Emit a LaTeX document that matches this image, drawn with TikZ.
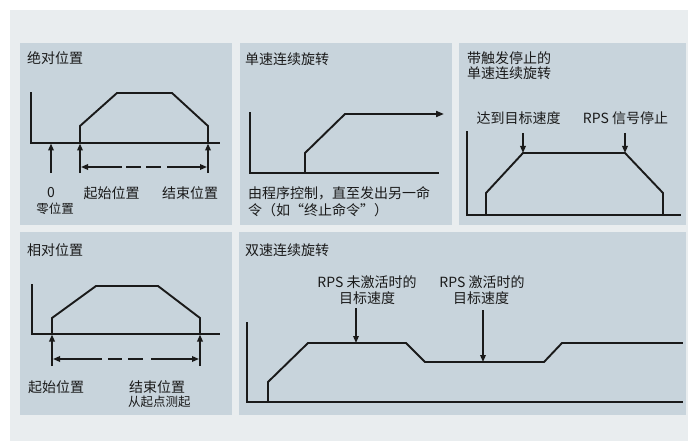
\documentclass[tikz,border=0pt]{standalone}
\usepackage{fontspec}
\newfontfamily\cjk{Noto Sans CJK SC}
\usetikzlibrary{arrows.meta}
\definecolor{outerc}{HTML}{E9EDEF}
\definecolor{panelc}{HTML}{C8D4DC}
\definecolor{txtc}{HTML}{1A1A1A}
\begin{document}
\begin{tikzpicture}[x=1pt,y=-1pt,
  panel/.style={fill=panelc,draw=none},
  curve/.style={line width=1.9pt,line join=miter,line cap=rect,draw=txtc},
  arr/.style={line width=1.6pt,draw=txtc,-{Triangle[length=7pt,width=5.5pt]}},
  dsh/.style={line width=1.6pt,draw=txtc},
  lbl/.style={inner sep=0pt,text=txtc,font=\cjk\fontsize{14}{16}\selectfont},
  sml/.style={inner sep=0pt,text=txtc,font=\cjk\fontsize{12.5}{14}\selectfont}]
\useasboundingbox (0,0) rectangle (688,441);
\fill[white] (0,0) rectangle (688,441);
\fill[outerc] (9.5,10) rectangle (688,441);
\fill[panel] (20,43) rectangle (232,225);
\fill[panel] (240,43) rectangle (452,225);
\fill[panel] (459,43) rectangle (686,225);
\fill[panel] (20,232) rectangle (232,415);
\fill[panel] (239,232) rectangle (686,415);

% ---------- Panel 1 ----------
\node[lbl,anchor=west] (t1) at (27,58) {绝对位置};
\coordinate (a1t) at (31,93);
\coordinate (a1o) at (31,143);
\coordinate (a1e) at (219,143);
\draw[curve] (a1t) -- (a1o) -- (a1e);
\coordinate (p1a) at (80,143);
\coordinate (p1b) at (80,126);
\coordinate (p1c) at (117,93);
\coordinate (p1d) at (172,93);
\coordinate (p1e) at (208,126);
\coordinate (p1f) at (208,143);
\draw[curve] (p1a) -- (p1b) -- (p1c) -- (p1d) -- (p1e) -- (p1f);
\coordinate (u1a) at (51,173); \coordinate (u1at) at (51,143.5);
\coordinate (u1b) at (80,173); \coordinate (u1bt) at (80,143.5);
\coordinate (u1c) at (208,173); \coordinate (u1ct) at (208,143.5);
\draw[arr] (u1a) -- (u1at);
\draw[arr] (u1b) -- (u1bt);
\draw[arr] (u1c) -- (u1ct);
\coordinate (d1l) at (81,167); \coordinate (d1a) at (122,167);
\coordinate (d1b) at (126,167); \coordinate (d1c) at (141,167);
\coordinate (d1d) at (146,167); \coordinate (d1e) at (161,167);
\coordinate (d1f) at (167,167); \coordinate (d1r) at (207,167);
\draw[arr] (d1a) -- (d1l);
\draw[dsh] (d1b) -- (d1c);
\draw[dsh] (d1d) -- (d1e);
\draw[arr] (d1f) -- (d1r);
\node[lbl] (z1) at (51,193) {0};
\node[sml] (z1b) at (55,209) {零位置};
\node[lbl] (s1) at (111.5,193) {起始位置};
\node[lbl] (e1) at (190,193) {结束位置};

% ---------- Panel 2 ----------
\node[lbl,anchor=west] (t2) at (245,59) {单速连续旋转};
\coordinate (a2t) at (250,113);
\coordinate (a2o) at (250,173);
\coordinate (a2e) at (438,173);
\draw[curve] (a2t) -- (a2o) -- (a2e);
\coordinate (p2a) at (305,173);
\coordinate (p2b) at (305,153);
\coordinate (p2c) at (345,114);
\coordinate (p2d) at (444,114);
\draw[curve,-{Triangle[length=8pt,width=6pt]}] (p2a) -- (p2b) -- (p2c) -- (p2d);
\node[lbl,anchor=west] (x2a) at (248,193) {由程序控制，直至发出另一命};
\node[lbl,anchor=west] (x2b) at (248,210) {令（如“终止命令”）};

% ---------- Panel 3 ----------
\node[lbl,anchor=west] (t3a) at (467,58) {带触发停止的};
\node[lbl,anchor=west] (t3b) at (467,73.5) {单速连续旋转};
\coordinate (a3t) at (467,132);
\coordinate (a3o) at (467,215);
\coordinate (a3e) at (680,215);
\draw[curve] (a3t) -- (a3o) -- (a3e);
\coordinate (p3a) at (486,215);
\coordinate (p3b) at (486,193);
\coordinate (p3c) at (523,153);
\coordinate (p3d) at (625,153);
\coordinate (p3e) at (663,193);
\coordinate (p3f) at (663,215);
\draw[curve] (p3a) -- (p3b) -- (p3c) -- (p3d) -- (p3e) -- (p3f);
\node[lbl] (l3a) at (518.5,118) {达到目标速度};
\node[lbl] (l3b) at (625.5,118) {RPS 信号停止};
\coordinate (q3a) at (523,133);
\coordinate (q3b) at (625,133);
\draw[arr] (q3a) -- (p3c);
\draw[arr] (q3b) -- (p3d);

% ---------- Panel 4 ----------
\node[lbl,anchor=west] (t4) at (27,250) {相对位置};
\coordinate (a4t) at (32,285);
\coordinate (a4o) at (32,334);
\coordinate (a4e) at (219,334);
\draw[curve] (a4t) -- (a4o) -- (a4e);
\coordinate (p4a) at (52,334);
\coordinate (p4b) at (52,318);
\coordinate (p4c) at (96,286);
\coordinate (p4d) at (158,286);
\coordinate (p4e) at (200,318);
\coordinate (p4f) at (200,334);
\draw[curve] (p4a) -- (p4b) -- (p4c) -- (p4d) -- (p4e) -- (p4f);
\coordinate (u4a) at (52,366); \coordinate (u4at) at (52,334.5);
\coordinate (u4b) at (200,366); \coordinate (u4bt) at (200,334.5);
\draw[arr] (u4a) -- (u4at);
\draw[arr] (u4b) -- (u4bt);
\coordinate (d4l) at (53,359); \coordinate (d4a) at (102,359);
\coordinate (d4b) at (108,359); \coordinate (d4c) at (122,359);
\coordinate (d4d) at (128,359); \coordinate (d4e) at (143,359);
\coordinate (d4f) at (151,359); \coordinate (d4r) at (199,359);
\draw[arr] (d4a) -- (d4l);
\draw[dsh] (d4b) -- (d4c);
\draw[dsh] (d4d) -- (d4e);
\draw[arr] (d4f) -- (d4r);
\node[lbl] (s4) at (56,387) {起始位置};
\node[lbl] (e4) at (157,387) {结束位置};
\node[sml,anchor=west] (m4) at (128,402) {从起点测起};

% ---------- Panel 5 ----------
\node[lbl,anchor=west] (t5) at (245,250) {双速连续旋转};
\coordinate (a5t) at (247,323);
\coordinate (a5o) at (247,402);
\coordinate (a5e) at (682,402);
\draw[curve] (a5t) -- (a5o) -- (a5e);
\coordinate (p5a) at (268,402);
\coordinate (p5b) at (268,382);
\coordinate (p5c) at (308,343);
\coordinate (p5d) at (406,343);
\coordinate (p5e) at (425,362);
\coordinate (p5f) at (544,362);
\coordinate (p5g) at (562,343);
\coordinate (p5h) at (682,343);
\draw[curve] (p5a) -- (p5b) -- (p5c) -- (p5d) -- (p5e) -- (p5f) -- (p5g) -- (p5h);
\node[lbl] (l5a) at (367,282) {RPS 未激活时的};
\node[lbl] (l5b) at (367,298) {目标速度};
\node[lbl] (l5c) at (482,282) {RPS 激活时的};
\node[lbl] (l5d) at (481,298) {目标速度};
\coordinate (q5a) at (356,308); \coordinate (q5at) at (356,343);
\coordinate (q5b) at (483,310); \coordinate (q5bt) at (483,362);
\draw[arr] (q5a) -- (q5at);
\draw[arr] (q5b) -- (q5bt);
\end{tikzpicture}
\end{document}
